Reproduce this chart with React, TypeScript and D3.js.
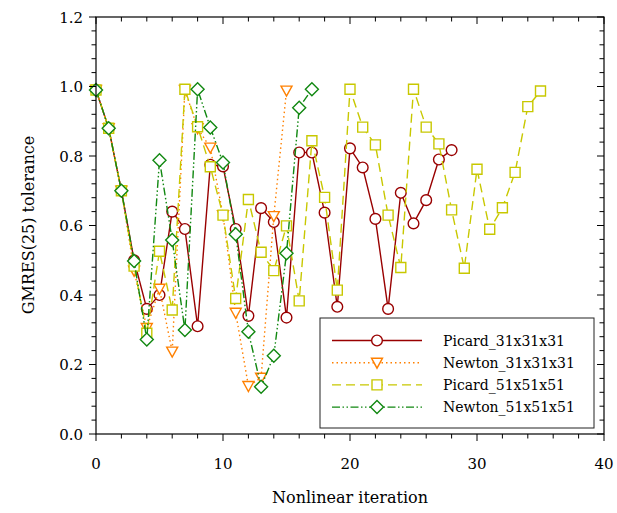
import { useEffect, useRef } from 'react';
import * as d3 from 'd3';

// GMRES(25) tolerance per nonlinear iteration
const picard31 = [0.99, 0.88, 0.70, 0.50, 0.36, 0.40, 0.64, 0.59, 0.31, 0.775, 0.77, 0.59, 0.34, 0.65, 0.61, 0.335, 0.81, 0.81, 0.637, 0.366, 0.822, 0.767, 0.619, 0.36, 0.694, 0.606, 0.673, 0.79, 0.817];
const newton31 = [0.99, 0.88, 0.70, 0.47, 0.305, 0.418, 0.237, 0.99, 0.88, 0.824, 0.63, 0.349, 0.138, 0.162, 0.627, 0.988];
const picard51 = [0.99, 0.88, 0.70, 0.483, 0.29, 0.526, 0.357, 0.992, 0.884, 0.769, 0.63, 0.39, 0.675, 0.523, 0.47, 0.599, 0.383, 0.844, 0.681, 0.414, 0.992, 0.883, 0.832, 0.63, 0.479, 0.992, 0.883, 0.835, 0.645, 0.477, 0.762, 0.589, 0.651, 0.753, 0.942, 0.987];
const newton51 = [0.99, 0.88, 0.70, 0.498, 0.272, 0.788, 0.558, 0.299, 0.992, 0.882, 0.781, 0.575, 0.294, 0.136, 0.225, 0.52, 0.939, 0.992];

const seriesNames = ['Picard_31x31x31', 'Newton_31x31x31', 'Picard_51x51x51', 'Newton_51x51x51'];
const xTicks = [0, 10, 20, 30, 40];
const yTicks = [0, 0.2, 0.4, 0.6, 0.8, 1.0, 1.2];

const FONT = '"DejaVu Serif", serif';

export default function App() {
    const svgRef = useRef<SVGSVGElement>(null);

    useEffect(() => {
        const svg = d3.select(svgRef.current);
        svg.selectAll('*').remove();

        const x = d3.scaleLinear().domain([0, 40]).range([96, 604]);
        const y = d3.scaleLinear().domain([0, 1.2]).range([434, 17]);

        const series = [
            { name: seriesNames[0], values: picard31, color: '#990000', dash: null, marker: 'circle' },
            { name: seriesNames[1], values: newton31, color: '#ff8000', dash: '1.5,3', marker: 'triangle' },
            { name: seriesNames[2], values: picard51, color: '#c8c800', dash: '9,5', marker: 'square' },
            { name: seriesNames[3], values: newton51, color: '#118811', dash: '8,2.5,1.5,2.5,1.5,2.5', marker: 'diamond' },
        ];

        const markerPath = (type: string) => {
            if (type === 'circle') return d3.symbol(d3.symbolCircle, 90)();
            if (type === 'square') return 'M-5,-5H5V5H-5Z';
            if (type === 'diamond') return 'M0,-6.5L6.5,0L0,6.5L-6.5,0Z';
            return 'M-5.5,-4.5L5.5,-4.5L0,5.5Z';
        };

        // Series
        series.forEach(s => {
            const line = d3.line<number>()
                .x((d, i) => x(i))
                .y(d => y(d));
            svg.append('path')
                .attr('d', line(s.values))
                .attr('fill', 'none')
                .attr('stroke', s.color)
                .attr('stroke-width', 1.4)
                .attr('stroke-dasharray', s.dash);
            svg.append('g')
                .selectAll('path')
                .data(s.values)
                .join('path')
                .attr('transform', (d, i) => `translate(${x(i)},${y(d)})`)
                .attr('d', markerPath(s.marker))
                .attr('fill', 'white')
                .attr('stroke', s.color)
                .attr('stroke-width', 1.4);
        });

        // Frame
        svg.append('rect')
            .attr('x', x(0)).attr('y', y(1.2))
            .attr('width', x(40) - x(0)).attr('height', y(0) - y(1.2))
            .attr('fill', 'none').attr('stroke', 'black').attr('stroke-width', 1.2);

        // Ticks
        const tickG = svg.append('g').attr('stroke', 'black').attr('stroke-width', 1);
        d3.range(0, 40.01, 2).forEach(v => {
            const major = v % 10 === 0;
            const len = major ? 7 : 4.5;
            tickG.append('line').attr('x1', x(v)).attr('x2', x(v)).attr('y1', y(0)).attr('y2', y(0) + len);
            tickG.append('line').attr('x1', x(v)).attr('x2', x(v)).attr('y1', y(1.2)).attr('y2', y(1.2) + len);
        });
        d3.range(0, 1.2001, 0.04).forEach(v => {
            const major = Math.abs(v / 0.2 - Math.round(v / 0.2)) < 1e-6;
            const len = major ? 7 : 4.5;
            tickG.append('line').attr('x1', x(0)).attr('x2', x(0) - len).attr('y1', y(v)).attr('y2', y(v));
            tickG.append('line').attr('x1', x(40)).attr('x2', x(40) - len).attr('y1', y(v)).attr('y2', y(v));
        });

        // Tick labels
        svg.append('g')
            .selectAll('text')
            .data(xTicks)
            .join('text')
            .attr('x', d => x(d))
            .attr('y', 469)
            .attr('text-anchor', 'middle')
            .attr('font-family', FONT)
            .attr('font-size', 15)
            .text(d => d);

        svg.append('g')
            .selectAll('text')
            .data(yTicks)
            .join('text')
            .attr('x', 83)
            .attr('y', d => y(d) + 5.5)
            .attr('text-anchor', 'end')
            .attr('font-family', FONT)
            .attr('font-size', 15)
            .text(d => d.toFixed(1));

        // Axis titles
        svg.append('text')
            .attr('x', 350).attr('y', 503)
            .attr('text-anchor', 'middle')
            .attr('font-family', FONT).attr('font-size', 16)
            .text('Nonlinear iteration');

        svg.append('text')
            .attr('transform', 'translate(34,225) rotate(-90)')
            .attr('text-anchor', 'middle')
            .attr('font-family', FONT).attr('font-size', 16)
            .text('GMRES(25) tolerance');

        // Legend
        const lg = svg.append('g').attr('transform', 'translate(320,318)');
        lg.append('rect')
            .attr('width', 274).attr('height', 110)
            .attr('fill', 'white').attr('stroke', '#222').attr('stroke-width', 1);
        series.forEach((s, i) => {
            const ly = 22.5 + i * 22.2;
            lg.append('line')
                .attr('x1', 12).attr('x2', 102).attr('y1', ly).attr('y2', ly)
                .attr('stroke', s.color).attr('stroke-width', 1.4)
                .attr('stroke-dasharray', s.dash);
            lg.append('path')
                .attr('transform', `translate(57,${ly})`)
                .attr('d', markerPath(s.marker))
                .attr('fill', 'white').attr('stroke', s.color).attr('stroke-width', 1.4);
            lg.append('text')
                .attr('x', 123).attr('y', ly + 5)
                .attr('font-family', FONT).attr('font-size', 14)
                .text(s.name);
        });
    }, []);

    return (
        <div style={{ position: 'absolute', left: 0, top: 0 }}>
            <svg ref={svgRef} width={617} height={513} style={{ display: 'block', background: 'white' }} />
        </div>
    );
}
